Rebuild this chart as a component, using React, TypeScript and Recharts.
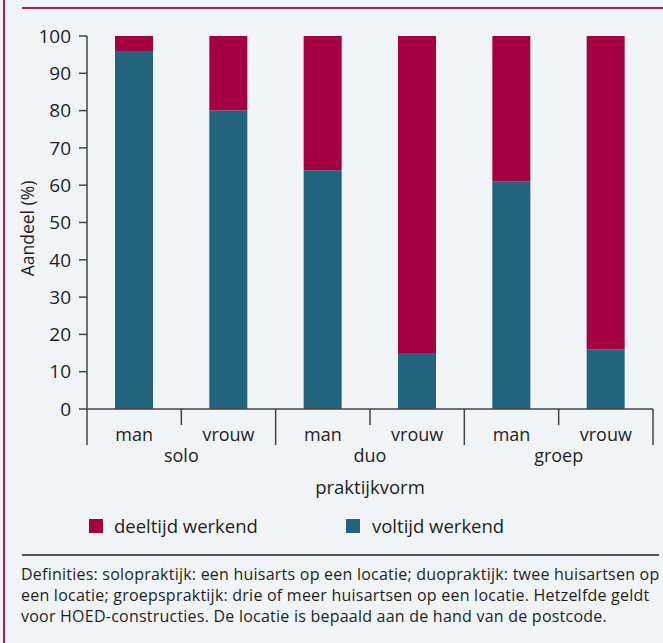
import { BarChart, Bar, XAxis, YAxis } from "recharts";

// Aandeel deeltijd/voltijd werkende huisartsen per praktijkvorm en geslacht.

const subLabels = ["man", "vrouw", "man", "vrouw", "man", "vrouw"];
const groups = ["solo", "solo", "duo", "duo", "groep", "groep"];
const voltijd = [96, 80, 64, 15, 61, 16];
const deeltijd = [4, 20, 36, 85, 39, 84];
const yTicks = [0, 10, 20, 30, 40, 50, 60, 70, 80, 90, 100];

const TEAL = "#22647e";
const CRIMSON = "#a50041";
const INK = "#231f20";
const AXIS = "#444";
const BG = "#f1f4f7";

const CHART_W = 663;
const CHART_H = 500;
const Y_W = 87;
const M_RIGHT = 10;
const BAND = (CHART_W - Y_W - M_RIGHT) / subLabels.length;

const data = subLabels.map((s, i) => ({
  sub: s,
  group: groups[i],
  voltijd: voltijd[i],
  deeltijd: deeltijd[i],
}));

function SubTick(props: any) {
  const { x, y, index, payload } = props;
  const left = x - BAND / 2;
  const last = index === subLabels.length - 1;
  return (
    <g>
      <line x1={left} x2={left} y1={y} y2={y + (index % 2 === 0 ? 36 : 16)} stroke={AXIS} strokeWidth={1.5} />
      {last && <line x1={x + BAND / 2} x2={x + BAND / 2} y1={y} y2={y + 36} stroke={AXIS} strokeWidth={1.5} />}
      <text x={x} y={y + 32} textAnchor="middle" fill={INK} fontSize={18}>
        {payload.value}
      </text>
    </g>
  );
}

function GroupTick(props: any) {
  const { x, y, index, payload } = props;
  if (index % 2 !== 0) return null;
  return (
    <text x={x + BAND / 2} y={y + 33} textAnchor="middle" fill={INK} fontSize={18}>
      {payload.value}
    </text>
  );
}

export default function App() {
  return (
    <div
      style={{
        position: "absolute",
        left: 0,
        top: 0,
        width: 663,
        height: 643,
        background: BG,
        fontFamily: "'Open Sans', sans-serif",
        color: INK,
        overflow: "hidden",
      }}
    >
      <div style={{ position: "absolute", left: 3, top: 0, width: 2, height: 643, background: "#b8165a" }} />
      <div style={{ position: "absolute", left: 22, top: 7, right: 0, height: 2, background: "#b8165a" }} />

      <BarChart
        width={CHART_W}
        height={CHART_H}
        data={data}
        margin={{ top: 36, right: M_RIGHT, left: 0, bottom: 1 }}
        style={{ position: "absolute", left: 0, top: 0 }}
      >
        <YAxis
          width={Y_W}
          domain={[0, 100]}
          ticks={yTicks}
          interval={0}
          tickSize={8}
          tickMargin={8}
          axisLine={{ stroke: AXIS, strokeWidth: 1.5 }}
          tickLine={{ stroke: AXIS, strokeWidth: 1.5 }}
          tick={{ fill: INK, fontSize: 19 }}
          label={{
            content: ({ viewBox }: any) => {
              const cy = viewBox.y + viewBox.height / 2 + 6;
              return (
                <text
                  x={34}
                  y={cy}
                  transform={`rotate(-90 34 ${cy})`}
                  textAnchor="middle"
                  fill={INK}
                  fontSize={17.5}
                >
                  Aandeel (%)
                </text>
              );
            },
          }}
        />
        <XAxis
          dataKey="sub"
          height={20}
          interval={0}
          tickSize={0}
          tickMargin={0}
          tickLine={false}
          axisLine={{ stroke: AXIS, strokeWidth: 1.5 }}
          tick={<SubTick />}
        />
        <XAxis
          xAxisId="grp"
          dataKey="group"
          height={70}
          interval={0}
          tickSize={0}
          tickMargin={0}
          tickLine={false}
          axisLine={false}
          tick={<GroupTick />}
          label={{
            content: ({ viewBox }: any) => (
              <text x={viewBox.x + viewBox.width / 2} y={viewBox.y + 65} textAnchor="middle" fill={INK} fontSize={18.5}>
                praktijkvorm
              </text>
            ),
          }}
        />
        <Bar dataKey="voltijd" stackId="a" fill={TEAL} barSize={38} isAnimationActive={false} />
        <Bar dataKey="deeltijd" stackId="a" fill={CRIMSON} barSize={38} isAnimationActive={false} />
      </BarChart>

      {/* legenda */}
      <div style={{ position: "absolute", top: 513, left: 89, display: "flex", alignItems: "center", fontSize: 18.5 }}>
        <span style={{ width: 14, height: 14, background: CRIMSON, display: "inline-block", marginRight: 11 }} />
        <span style={{ width: 232 }}>deeltijd werkend</span>
        <span style={{ width: 14, height: 14, background: TEAL, display: "inline-block", marginRight: 12 }} />
        <span>voltijd werkend</span>
      </div>

      <div style={{ position: "absolute", left: 22, top: 554, width: 637, height: 2, background: "#555" }} />

      <div style={{ position: "absolute", left: 21, top: 564, fontSize: 16, lineHeight: "21px", whiteSpace: "nowrap", letterSpacing: 0.23 }}>
        <div>Definities: solopraktijk: een huisarts op een locatie; duopraktijk: twee huisartsen op</div>
        <div>een locatie; groepspraktijk: drie of meer huisartsen op een locatie. Hetzelfde geldt</div>
        <div>voor HOED-constructies. De locatie is bepaald aan de hand van de postcode.</div>
      </div>
    </div>
  );
}
